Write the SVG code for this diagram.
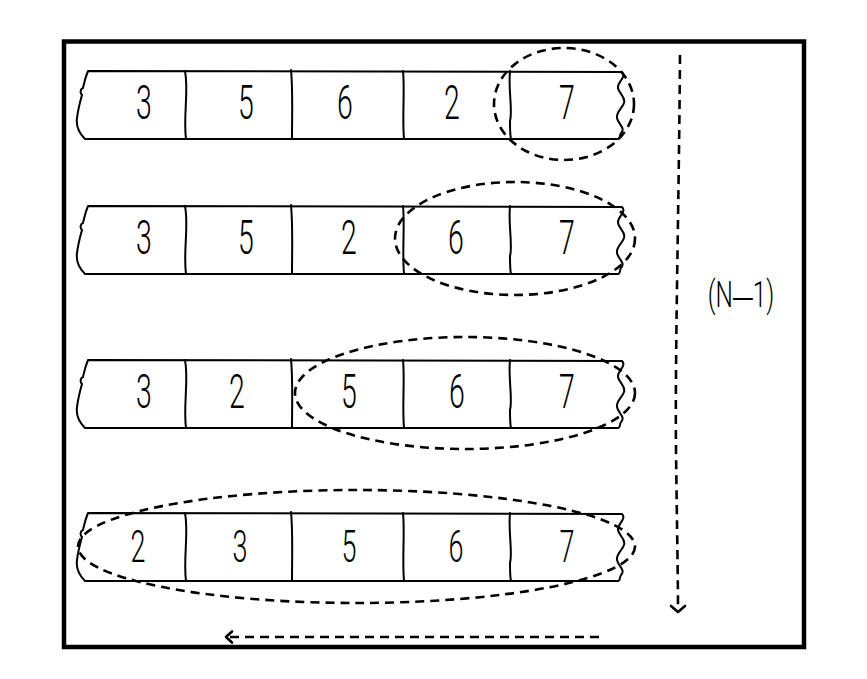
<svg xmlns="http://www.w3.org/2000/svg" xmlns:xlink="http://www.w3.org/1999/xlink" width="867" height="679" viewBox="0 0 867 679">
<style>
.frame{fill:none;stroke:#000;stroke-width:4.5}
.ln{fill:none;stroke:#000;stroke-width:2;stroke-linecap:round;stroke-linejoin:round}
.ds{fill:none;stroke:#000;stroke-width:2.6;stroke-dasharray:9 6}
.ah{fill:none;stroke:#000;stroke-width:2.6;stroke-linecap:round;stroke-linejoin:round}
.d{font-family:Roboto,"Liberation Sans",sans-serif;font-weight:300;font-size:49px;text-anchor:middle;fill:#000}
.d4{font-size:45px}
.lbl{font-family:Roboto,"Liberation Sans",sans-serif;font-weight:300;font-size:37px;text-anchor:middle;fill:#000}
.dash{font-family:"Liberation Sans",sans-serif;font-weight:400;font-size:30px}
</style>
<defs>
<g id="arr">
<path class="ln" d="M88,0 L622,1 C627,6 617,11 618,17 C619,23 626,26 624,32 C622,38 616,41 617,47 C618,53 626,57 621,62 C619,65 621,67 618,68 L85,68 C78,61 76,54 77,47 C78,39 80,31 82,24 C80,22 80,18 83,17 C84,13 85,7 88,0 Z"/>
<path class="ln" d="M185,0 C189,20 183,45 186,68"/>
<path class="ln" d="M291,-1 C293,20 292,45 292,68"/>
<path class="ln" d="M403,0 C405,20 402,45 404,68"/>
<path class="ln" d="M510,0 C508,18 513,40 510,50 C510,58 510,64 511,68"/>
</g>
</defs>
<rect class="frame" x="64" y="41.5" width="740" height="605.5"/>
<g id="row1">
<use xlink:href="#arr" transform="translate(0,71)"/>
<text class="d" transform="translate(144,119) scale(0.58,1)">3</text>
<text class="d" transform="translate(246,119) scale(0.58,1)">5</text>
<text class="d" transform="translate(345,119) scale(0.58,1)">6</text>
<text class="d" transform="translate(452,119) scale(0.58,1)">2</text>
<text class="d" transform="translate(567,119) scale(0.58,1)">7</text>
</g>
<g id="row2">
<use xlink:href="#arr" transform="translate(0,206)"/>
<text class="d" transform="translate(144,254) scale(0.58,1)">3</text>
<text class="d" transform="translate(246,254) scale(0.58,1)">5</text>
<text class="d" transform="translate(349,254) scale(0.58,1)">2</text>
<text class="d" transform="translate(456,254) scale(0.58,1)">6</text>
<text class="d" transform="translate(567,254) scale(0.58,1)">7</text>
</g>
<g id="row3">
<use xlink:href="#arr" transform="translate(0,360)"/>
<text class="d" transform="translate(144,408) scale(0.58,1)">3</text>
<text class="d" transform="translate(237,408) scale(0.58,1)">2</text>
<text class="d" transform="translate(349,408) scale(0.58,1)">5</text>
<text class="d" transform="translate(457,408) scale(0.58,1)">6</text>
<text class="d" transform="translate(567,408) scale(0.58,1)">7</text>
</g>
<g id="row4">
<use xlink:href="#arr" transform="translate(0,513)"/>
<text class="d d4" transform="translate(138,562) scale(0.6,1)">2</text>
<text class="d d4" transform="translate(240,562) scale(0.6,1)">3</text>
<text class="d d4" transform="translate(349,562) scale(0.6,1)">5</text>
<text class="d d4" transform="translate(456,562) scale(0.6,1)">6</text>
<text class="d d4" transform="translate(567,562) scale(0.6,1)">7</text>
</g>
<g id="groups">
<ellipse class="ds" cx="564" cy="104" rx="70" ry="56"/>
<ellipse class="ds" cx="515" cy="238.5" rx="120" ry="56.5"/>
<ellipse class="ds" cx="465" cy="393" rx="170" ry="56"/>
<ellipse class="ds" cx="356.5" cy="546.5" rx="278.5" ry="56.5"/>
</g>
<g id="connectors">
<path class="ds" d="M680,55 C679,200 675,350 676,450 C677,530 678,580 678,611"/>
<path class="ah" d="M671,606 L678,612 L685,606"/>
<path class="ds" d="M599,637 L228,637"/>
<path class="ah" d="M232,631.5 L226,637 L232,642.5"/>
</g>
<g id="label">
<text class="lbl" transform="translate(741,307) scale(0.66,1)">(N<tspan class="dash">—</tspan>1)</text>
</g>
</svg>
